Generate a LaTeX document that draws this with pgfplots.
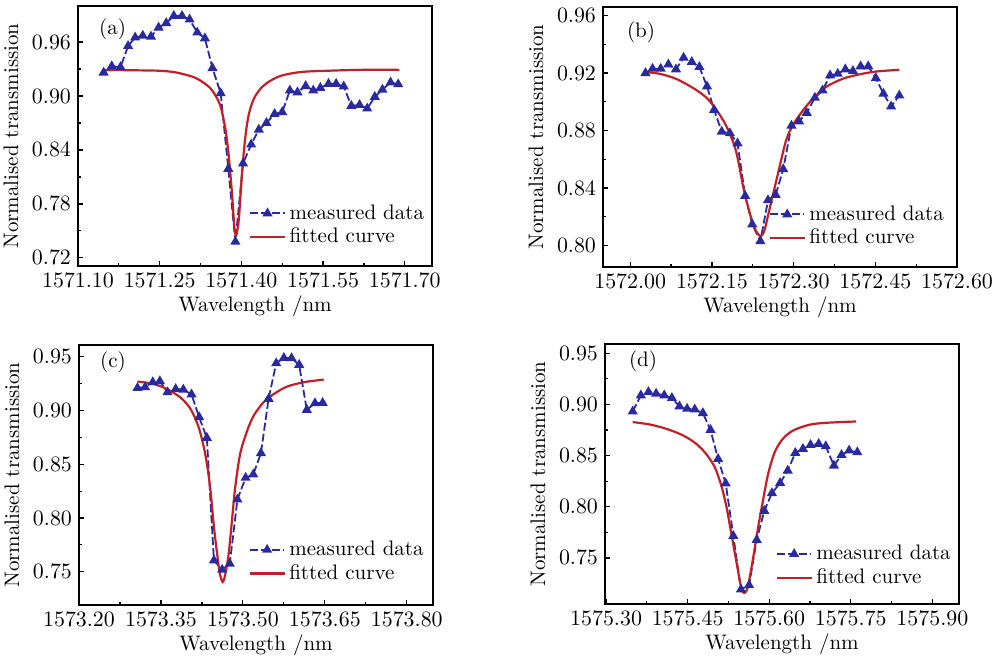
\documentclass[border=0pt]{standalone}
\usepackage{pgfplots}
\pgfplotsset{compat=1.18}
\definecolor{mblue}{RGB}{42,42,160}
\definecolor{fred}{RGB}{192,32,40}
\pgfplotsset{
 panel/.style={
  scale only axis, width=177pt, height=130pt, anchor=south west,
  font=\fontsize{10.5}{12.6}\selectfont,
  axis line style={line width=1.1pt},
  tick align=inside, tick pos=left,
  every tick/.style={black, line width=0.6pt},
  major tick length=2.5pt, minor tick length=1.5pt,
  minor x tick num=1, minor y tick num=1,
  scaled ticks=false,
  xticklabel style={/pgf/number format/.cd, fixed, fixed zerofill, precision=2, 1000 sep={}},
  yticklabel style={/pgf/number format/.cd, fixed, fixed zerofill, precision=2},
  xlabel={Wavelength /nm}, ylabel={Normalised transmission},
  xlabel style={yshift=2.5pt},
  legend style={draw=none, fill=none, anchor=south east, inner sep=0pt, row sep=-1pt, font=\fontsize{10.5}{12.6}\selectfont},
  legend cell align=left,
 },
 mstyle/.style={color=mblue, line width=0.9pt, dash pattern=on 4pt off 1.5pt, mark=triangle*, mark size=2.05pt, mark options={solid}},
 fstyle/.style={color=fred, line width=1.1pt, no marks, smooth},
}
\begin{document}
\begin{tikzpicture}
\useasboundingbox (0,0) rectangle (504pt,328pt);
% (a)
\begin{axis}[panel, at={(39pt,195pt)},
  xmin=1571.10, xmax=1571.75, ymin=0.711, ymax=1.0,
  xtick={1571.10,1571.25,1571.40,1571.55,1571.70},
  ytick={0.72,0.78,0.84,0.90,0.96},
  legend style={at={(0.99,0.06)}}]
\addplot[mstyle] coordinates {
(1571.147,0.926)(1571.162,0.933)(1571.178,0.932)(1571.192,0.9555)(1571.205,0.965)
(1571.219,0.967)(1571.234,0.966)(1571.248,0.976)(1571.262,0.981)(1571.276,0.989)
(1571.291,0.989)(1571.305,0.985)(1571.319,0.9705)(1571.333,0.964)(1571.347,0.931)
(1571.362,0.903)(1571.376,0.819)(1571.389,0.738)(1571.403,0.825)(1571.418,0.846)
(1571.432,0.8625)(1571.446,0.870)(1571.461,0.880)(1571.475,0.882)(1571.489,0.906)
(1571.503,0.904)(1571.518,0.911)(1571.532,0.906)(1571.545,0.909)(1571.560,0.9135)
(1571.574,0.9135)(1571.588,0.9105)(1571.602,0.889)(1571.617,0.890)(1571.631,0.886)
(1571.645,0.899)(1571.659,0.907)(1571.674,0.915)(1571.688,0.913)};
\addlegendentry{measured data}
\addplot[fstyle] coordinates {
(1571.147,0.929)(1571.190,0.9286)(1571.250,0.928)(1571.281,0.926)(1571.312,0.921)
(1571.330,0.915)(1571.343,0.9086)(1571.352,0.901)(1571.362,0.888)(1571.371,0.862)
(1571.377,0.832)(1571.383,0.790)(1571.387,0.755)(1571.390,0.745)(1571.393,0.752)
(1571.396,0.768)(1571.402,0.8205)(1571.408,0.858)(1571.414,0.8805)(1571.423,0.897)
(1571.436,0.9086)(1571.451,0.916)(1571.473,0.9225)(1571.509,0.9266)(1571.558,0.928)
(1571.620,0.929)(1571.690,0.929)};
\addlegendentry{fitted curve}
\node[anchor=west] at (rel axis cs:0.04,0.91) {(a)};
\end{axis}
% (b)
\begin{axis}[panel, at={(301.5pt,194.5pt)},
  xmin=1571.95, xmax=1572.60, ymin=0.785, ymax=0.966,
  xtick={1572.00,1572.15,1572.30,1572.45,1572.60},
  ytick={0.80,0.84,0.88,0.92,0.96},
  legend style={at={(0.975,0.06)}}]
\addplot[mstyle] coordinates {
(1572.028,0.920)(1572.041,0.923)(1572.056,0.923)(1572.070,0.926)(1572.084,0.9226)
(1572.098,0.9307)(1572.113,0.9277)(1572.127,0.9242)(1572.141,0.9107)(1572.154,0.8944)
(1572.168,0.8792)(1572.183,0.8781)(1572.197,0.8711)(1572.211,0.8345)(1572.224,0.8147)
(1572.239,0.8030)(1572.253,0.8315)(1572.267,0.8352)(1572.281,0.8531)(1572.296,0.8834)
(1572.310,0.8864)(1572.324,0.8923)(1572.339,0.9028)(1572.353,0.9079)(1572.367,0.9184)
(1572.381,0.9195)(1572.395,0.9226)(1572.409,0.9214)(1572.423,0.9247)(1572.437,0.9247)
(1572.451,0.9165)(1572.465,0.9056)(1572.479,0.8967)(1572.494,0.9044)};
\addlegendentry{measured data}
\addplot[fstyle] coordinates {
(1572.028,0.9207)(1572.054,0.9195)(1572.084,0.916)(1572.115,0.9097)(1572.139,0.9032)
(1572.157,0.895)(1572.176,0.8834)(1572.194,0.866)(1572.209,0.838)(1572.222,0.8193)
(1572.231,0.810)(1572.239,0.8065)(1572.246,0.810)(1572.255,0.824)(1572.271,0.8496)
(1572.286,0.8729)(1572.298,0.8834)(1572.317,0.8939)(1572.335,0.902)(1572.359,0.9102)
(1572.390,0.916)(1572.420,0.919)(1572.450,0.921)(1572.494,0.9223)};
\addlegendentry{fitted curve}
\node[anchor=west] at (rel axis cs:0.048,0.904) {(b)};
\end{axis}
% (c)
\begin{axis}[panel, at={(39.5pt,25.5pt)},
  xmin=1573.20, xmax=1573.848, ymin=0.719, ymax=0.961,
  xtick={1573.20,1573.35,1573.50,1573.65,1573.80},
  ytick={0.75,0.80,0.85,0.90,0.95},
  legend style={at={(0.986,0.07)}}]
\addplot[mstyle] coordinates {
(1573.307,0.921)(1573.321,0.9217)(1573.335,0.9264)(1573.348,0.9273)(1573.362,0.917)
(1573.377,0.920)(1573.391,0.9195)(1573.406,0.915)(1573.420,0.8938)(1573.434,0.8746)
(1573.447,0.7605)(1573.462,0.7518)(1573.476,0.7574)(1573.490,0.8172)(1573.505,0.8374)
(1573.519,0.8405)(1573.533,0.8603)(1573.547,0.9109)(1573.561,0.944)(1573.575,0.949)
(1573.589,0.9487)(1573.603,0.9425)(1573.617,0.9006)(1573.632,0.9068)(1573.646,0.9071)};
\addlegendentry{measured data}
\addplot[fstyle] coordinates {
(1573.307,0.927)(1573.336,0.9248)(1573.361,0.920)(1573.385,0.9124)(1573.404,0.9016)
(1573.419,0.8845)(1573.431,0.8597)(1573.440,0.8287)(1573.447,0.7915)(1573.454,0.762)
(1573.458,0.748)(1573.463,0.7404)(1573.468,0.748)(1573.474,0.7667)(1573.480,0.7977)
(1573.486,0.8287)(1573.495,0.8597)(1573.508,0.8814)(1573.520,0.8954)(1573.538,0.9078)
(1573.557,0.9155)(1573.581,0.9223)(1573.612,0.9264)(1573.648,0.9288)};
\addlegendentry{fitted curve}
\node[anchor=west] at (rel axis cs:0.04,0.935) {(c)};
\end{axis}
% (d)
\begin{axis}[panel, at={(302.5pt,26pt)},
  xmin=1575.298, xmax=1575.949, ymin=0.705, ymax=0.959,
  xtick={1575.30,1575.45,1575.60,1575.75,1575.90},
  ytick={0.75,0.80,0.85,0.90,0.95},
  legend style={at={(0.989,0.05)}}]
\addplot[mstyle] coordinates {
(1575.349,0.8931)(1575.364,0.9088)(1575.378,0.9121)(1575.392,0.9105)(1575.407,0.9088)
(1575.421,0.9062)(1575.435,0.898)(1575.449,0.8957)(1575.463,0.8951)(1575.478,0.8915)
(1575.492,0.8751)(1575.506,0.8467)(1575.520,0.8228)(1575.534,0.7715)(1575.548,0.7192)
(1575.563,0.7234)(1575.577,0.7676)(1575.591,0.796)(1575.605,0.8133)(1575.620,0.8232)
(1575.634,0.8353)(1575.648,0.8526)(1575.662,0.8565)(1575.676,0.8604)(1575.691,0.8614)
(1575.704,0.8591)(1575.719,0.8402)(1575.733,0.8506)(1575.747,0.8549)(1575.762,0.8532)};
\addlegendentry{measured data}
\addplot[fstyle] coordinates {
(1575.349,0.8827)(1575.380,0.8804)(1575.411,0.8761)(1575.442,0.8696)(1575.466,0.8614)
(1575.484,0.8516)(1575.500,0.8385)(1575.512,0.8205)(1575.521,0.8009)(1575.530,0.7748)
(1575.540,0.7453)(1575.549,0.7198)(1575.555,0.7159)(1575.561,0.7224)(1575.570,0.7486)
(1575.579,0.778)(1575.589,0.8075)(1575.598,0.832)(1575.610,0.8532)(1575.625,0.8663)
(1575.644,0.8745)(1575.674,0.8801)(1575.705,0.882)(1575.760,0.8833)};
\addlegendentry{fitted curve}
\node[anchor=west] at (rel axis cs:0.048,0.935) {(d)};
\end{axis}
\end{tikzpicture}
\end{document}
